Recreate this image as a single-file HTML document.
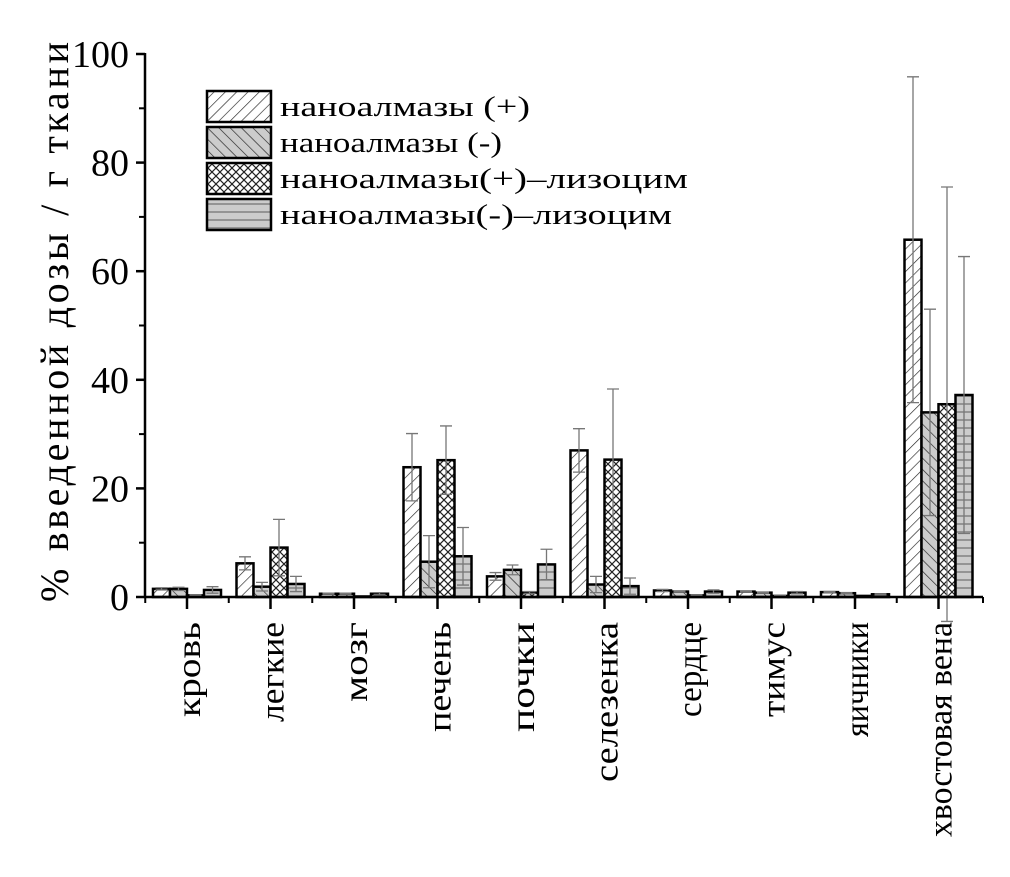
<!DOCTYPE html>
<html><head><meta charset="utf-8"><style>
html,body{margin:0;padding:0;background:#fff}
svg{display:block}
text{font-family:"Liberation Serif","Noto Serif CJK SC","DejaVu Serif",serif;fill:#000}
</style></head><body>
<svg id="chart" width="1010" height="877" viewBox="0 0 1010 877" xmlns="http://www.w3.org/2000/svg">
<defs>
<pattern id="p0" patternUnits="userSpaceOnUse" width="8" height="8" patternTransform="rotate(45)"><rect width="8" height="8" fill="#fff"/><line x1="0" y1="0" x2="0" y2="8" stroke="#222" stroke-width="1.3"/></pattern>
<pattern id="p1" patternUnits="userSpaceOnUse" width="8" height="8" patternTransform="rotate(-45)"><rect width="8" height="8" fill="#ccc"/><line x1="0" y1="0" x2="0" y2="8" stroke="#222" stroke-width="1.3"/></pattern>
<pattern id="p2" patternUnits="userSpaceOnUse" width="8" height="8"><rect width="8" height="8" fill="#fff"/><path d="M0 0L8 8M8 0L0 8" stroke="#222" stroke-width="1.2"/></pattern>
<pattern id="p3" patternUnits="userSpaceOnUse" width="8" height="8"><rect width="8" height="8" fill="#ccc"/><line x1="0" y1="4" x2="8" y2="4" stroke="#777" stroke-width="1.3"/></pattern>
</defs>
<g id="plot"></g>
<text transform="translate(68,322) rotate(-90)" text-anchor="middle" font-size="40" textLength="560" lengthAdjust="spacing">% введенной дозы / г ткани</text>
<g id="legend"></g>
</svg>
<script>
const categories=["кровь","легкие","мозг","печень","почки","селезенка","сердце","тимус","яичники","хвостовая вена"];
const seriesNames=["наноалмазы (+)","наноалмазы (-)","наноалмазы(+)–лизоцим","наноалмазы(-)–лизоцим"];
const s1=[1.5,6.2,0.6,23.9,3.8,27.0,1.2,1.0,0.9,65.8];
const s2=[1.5,1.9,0.6,6.5,5.0,2.3,1.0,0.8,0.7,34.0];
const s3=[0.3,9.1,0.1,25.2,0.8,25.3,0.3,0.2,0.2,35.5];
const s4=[1.3,2.4,0.6,7.5,6.0,2.0,1.0,0.8,0.5,37.2];
const e1=[0.2,1.2,0.1,6.2,0.7,4.0,0.2,0.1,0.1,30.0];
const e2=[0.3,0.8,0.1,4.8,0.9,1.5,0.1,0.1,0.1,19.0];
const e3=[0.1,5.2,0.0,6.3,0.2,13.0,0.1,0.1,0.0,40.0];
const e4=[0.6,1.4,0.2,5.3,2.8,1.5,0.3,0.2,0.1,25.5];
const yTicks=[0,20,40,60,80,100];
const labelLens=[95,100,80,110,110,160,95,95,115,215];
const series=[s1,s2,s3,s4], errs=[e1,e2,e3,e4];
const NS="http://www.w3.org/2000/svg";
const X0=145,X1=983,Y0=597,Y100=54;
const y=v=>Y0-(v/100)*(Y0-Y100);
const step=83.5, xc=i=>187+i*step, bw=17;
const g=document.getElementById('plot');
function mk(t,a,p){const e=document.createElementNS(NS,t);for(const k in a)e.setAttribute(k,a[k]);(p||g).appendChild(e);return e;}
series.forEach((s,j)=>{s.forEach((v,i)=>{
  const x=xc(i)-34+j*bw;
  const r=mk('rect',{x:x,y:y(v),width:bw,height:Y0-y(v),fill:'url(#p'+j+')',stroke:'#000','stroke-width':2.5});
  
  
  const e=errs[j][i],cx=x+bw/2;
  if(e>0){
    const l=mk('path',{d:`M${cx} ${y(v+e)}V${y(v-e)}M${cx-6} ${y(v+e)}H${cx+6}M${cx-6} ${y(v-e)}H${cx+6}`,stroke:'#777','stroke-width':1.3,fill:'none'});
    
    
  }
});});
const ax=mk('path',{d:`M${X0} ${Y100-1}V${Y0}H${X1}`,stroke:'#000','stroke-width':2.5,fill:'none'});


yTicks.forEach(v=>{
  mk('line',{x1:X0-9,x2:X0,y1:y(v),y2:y(v),stroke:'#000','stroke-width':2.5});
  const t=mk('text',{x:X0-16,y:y(v)+13,'text-anchor':'end','font-size':38});
  t.textContent=v;
  
  
});
for(let k=0;k<5;k++){const v=10+20*k;mk('line',{x1:X0-6,x2:X0,y1:y(v),y2:y(v),stroke:'#000','stroke-width':2});}
categories.forEach((c,i)=>{
  mk('line',{x1:xc(i),x2:xc(i),y1:Y0,y2:Y0+12,stroke:'#000','stroke-width':2.5});
  mk('line',{x1:xc(i)-step/2,x2:xc(i)-step/2,y1:Y0,y2:Y0+6,stroke:'#000','stroke-width':2});
  const t=mk('text',{transform:`translate(${xc(i)+13},622) rotate(-90)`,'text-anchor':'end','font-size':34,textLength:labelLens[i],lengthAdjust:'spacingAndGlyphs'});
  t.textContent=c;
  
  
});
mk('line',{x1:X1,x2:X1,y1:Y0,y2:Y0+6,stroke:'#000','stroke-width':2});
const legLens=[250,222,408,392];
const lg=document.getElementById('legend');
seriesNames.forEach((n,j)=>{
  const yy=91+j*36;
  const r=mk('rect',{x:207,y:yy,width:64,height:31,fill:'url(#p'+j+')',stroke:'#000','stroke-width':2.5},lg);
  
  
  const t=mk('text',{x:280,y:yy+25,'font-size':29,textLength:legLens[j],lengthAdjust:'spacingAndGlyphs'},lg);
  t.textContent=n;
  
  
});
</script>
</body></html>
